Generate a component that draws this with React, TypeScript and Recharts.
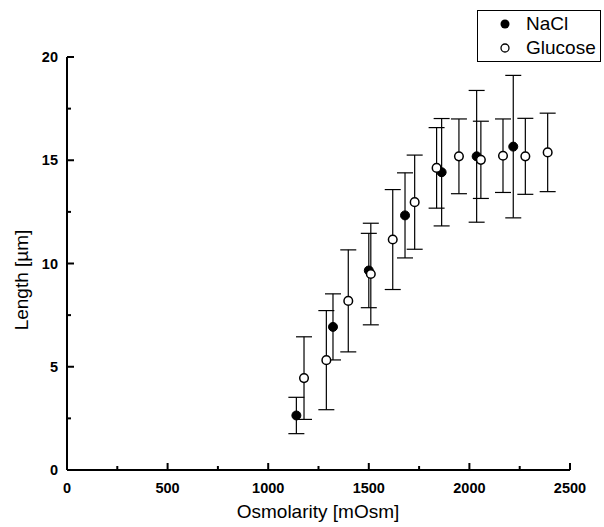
import { ScatterChart, Scatter, XAxis, YAxis, ErrorBar } from 'recharts';

const naclX = [1140, 1322, 1500, 1680, 1862, 2036, 2218];
const naclY = [2.64, 6.93, 9.66, 12.33, 14.42, 15.19, 15.66];
const naclErr = [0.88, 1.6, 1.8, 2.06, 2.6, 3.19, 3.45];

const glucoseX = [1178, 1289, 1398, 1510, 1619, 1728, 1837, 1948, 2057, 2167, 2278, 2389];
const glucoseY = [4.45, 5.32, 8.19, 9.49, 11.16, 12.97, 14.63, 15.19, 15.02, 15.22, 15.19, 15.38];
const glucoseErr = [2.0, 2.4, 2.47, 2.46, 2.42, 2.28, 1.95, 1.81, 1.87, 1.78, 1.84, 1.9];

const xTicks = [0, 250, 500, 750, 1000, 1250, 1500, 1750, 2000, 2250, 2500];
const yTicks = [0, 2.5, 5, 7.5, 10, 12.5, 15, 17.5, 20];

const FONT = '"Liberation Sans", Arial, sans-serif';

const nacl = naclX.map((x, i) => ({ x, y: naclY[i], err: naclErr[i] }));
const glucose = glucoseX.map((x, i) => ({ x, y: glucoseY[i], err: glucoseErr[i] }));

function XTick(props: any) {
  const { x, y, payload } = props;
  const major = payload.value % 500 === 0;
  return (
    <g>
      <line x1={x} x2={x} y1={y} y2={y - (major ? 7 : 4)} stroke="#000" strokeWidth={2} />
      {major && (
        <text x={x} y={y + 23} textAnchor="middle" fontFamily={FONT} fontWeight="bold" fontSize={14.5} fill="#000">
          {payload.value}
        </text>
      )}
    </g>
  );
}

function YTick(props: any) {
  const { x, y, payload } = props;
  const major = payload.value % 5 === 0;
  return (
    <g>
      <line x1={x} x2={x + (major ? 7 : 4)} y1={y} y2={y} stroke="#000" strokeWidth={2} />
      {major && (
        <text x={x - 9} y={y + 5} textAnchor="end" fontFamily={FONT} fontWeight="bold" fontSize={14.5} fill="#000">
          {payload.value}
        </text>
      )}
    </g>
  );
}

const Filled = (p: any) => <circle cx={p.cx} cy={p.cy} r={4.5} fill="#000" stroke="#000" strokeWidth={1} />;
const Open = (p: any) => <circle cx={p.cx} cy={p.cy} r={4.3} fill="#fff" stroke="#000" strokeWidth={1.5} />;

function LegendBox() {
  return (
    <div
      style={{
        position: 'absolute',
        left: 477,
        top: 10,
        border: '1.5px solid #000',
        width: 124,
        height: 52,
        boxSizing: 'border-box',
        fontFamily: FONT,
        fontSize: 19,
        lineHeight: '24px',
        background: '#fff',
      }}
    >
      <div style={{ display: 'flex', alignItems: 'center', height: 24, marginTop: 1 }}>
        <svg width={48} height={20}>
          <circle cx={27} cy={10} r={4.5} fill="#000" />
        </svg>
        <span>NaCl</span>
      </div>
      <div style={{ display: 'flex', alignItems: 'center', height: 24 }}>
        <svg width={48} height={20}>
          <circle cx={27} cy={10} r={4} fill="#fff" stroke="#000" strokeWidth={1.3} />
        </svg>
        <span>Glucose</span>
      </div>
    </div>
  );
}

export default function App() {
  return (
    <div style={{ position: 'absolute', left: 0, top: 0, width: 604, height: 527, background: '#fff' }}>
      <ScatterChart width={604} height={527} margin={{ top: 57, right: 34, bottom: 17, left: 27 }}>
        <XAxis
          type="number"
          dataKey="x"
          domain={[0, 2500]}
          ticks={xTicks}
          interval={0}
          height={40}
          tickSize={0}
          tickMargin={0}
          tickLine={false}
          tick={<XTick />}
          axisLine={{ stroke: '#000', strokeWidth: 2 }}
          label={{
            value: 'Osmolarity [mOsm]',
            content: () => (
              <text x={318} y={518} textAnchor="middle" fontFamily={FONT} fontSize={19} fill="#000">
                Osmolarity [mOsm]
              </text>
            ),
          }}
        />
        <YAxis
          type="number"
          dataKey="y"
          domain={[0, 20]}
          ticks={yTicks}
          interval={0}
          width={40}
          tickSize={0}
          tickMargin={0}
          tickLine={false}
          tick={<YTick />}
          axisLine={{ stroke: '#000', strokeWidth: 2 }}
          label={{
            value: 'Length [µm]',
            content: () => (
              <text
                x={28}
                y={280}
                transform="rotate(-90 28 280)"
                textAnchor="middle"
                fontFamily={FONT}
                fontSize={19}
                fill="#000"
              >
                Length [µm]
              </text>
            ),
          }}
        />
        <Scatter name="NaCl" data={nacl} shape={Filled} isAnimationActive={false}>
          <ErrorBar dataKey="err" direction="y" width={8} stroke="#000" strokeWidth={1.2} isAnimationActive={false} />
        </Scatter>
        <Scatter name="Glucose" data={glucose} shape={Open} isAnimationActive={false}>
          <ErrorBar dataKey="err" direction="y" width={8} stroke="#000" strokeWidth={1.2} isAnimationActive={false} />
        </Scatter>
      </ScatterChart>
      <LegendBox />
    </div>
  );
}
